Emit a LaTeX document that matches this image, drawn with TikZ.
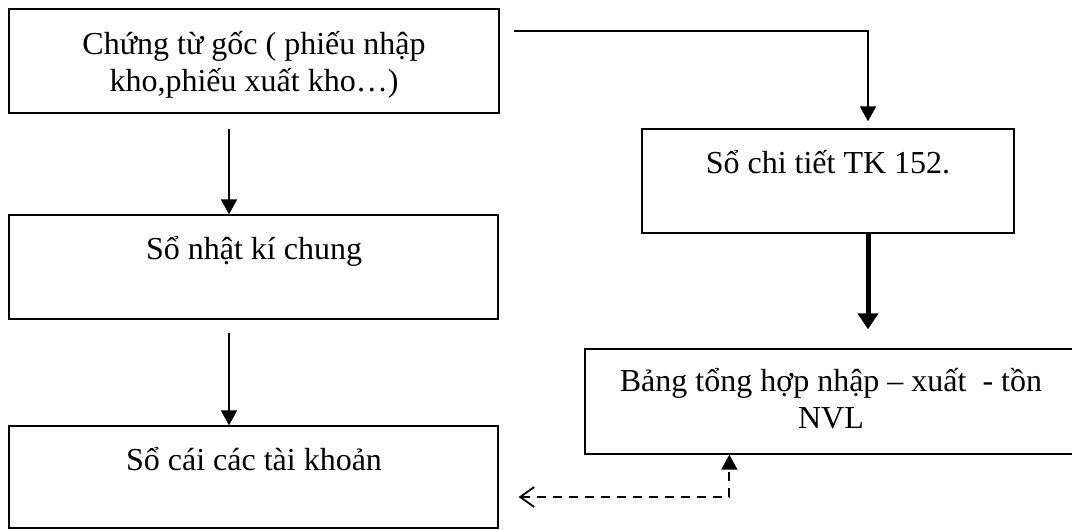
\documentclass[tikz,border=0pt]{standalone}
\usepackage{fontspec}
\setmainfont{Liberation Serif}
\usetikzlibrary{arrows.meta,calc}
\begin{document}
\begin{tikzpicture}[x=1pt,y=-1pt,
  box/.style={draw,line width=1.3pt,inner sep=0pt},
  txt/.style={anchor=base,align=center,inner sep=0pt,font=\fontsize{32}{37}\selectfont},
  arr/.style={line width=1.8pt,-{Triangle[length=15pt,width=16pt]}},
  thickarr/.style={line width=5pt,-{Triangle[length=16pt,width=20pt]}},
  dasharr/.style={line width=1.8pt,dash pattern=on 9pt off 7pt,
    {Straight Barb[length=14pt,width=20pt,line width=1.8pt]}-{Triangle[length=15pt,width=16pt]}}
]
\path[use as bounding box,clip] (0,0) rectangle (1072,530);
% boxes
\node[box,minimum width=490pt,minimum height=104pt] (A) at (254,61) {};
\node[box,minimum width=372pt,minimum height=104pt] (B) at (828,181) {};
\node[box,minimum width=492pt,minimum height=105pt] (C) at (831,401.5) {};
\node[box,minimum width=489pt,minimum height=104pt] (D) at (253.5,267) {};
\node[box,minimum width=489pt,minimum height=102pt] (E) at (253.5,477) {};
% texts
\node[txt] (tA) at (254,91) {Chứng từ gốc ( phiếu nhập\\kho,phiếu xuất kho…)};
\node[txt] (tB) at (828,173) {Sổ chi tiết TK 152.};
\node[txt] (tC) at (831,428) {Bảng tổng hợp nhập – xuất\ \ - tồn\\NVL};
\node[txt] (tD) at (254,259) {Sổ nhật kí chung};
\node[txt] (tE) at (254,470) {Sổ cái các tài khoản};
% connector ends
\coordinate (a0) at ($(A.north east)+(14,23)$);
\coordinate (b0) at ($(B.north)+(40,-7)$);
\coordinate (a1) at ($(A.south)+(-25,15)$);
\coordinate (d1) at (a1 |- D.north);
\coordinate (d2) at ($(D.south)+(-24.5,13)$);
\coordinate (e2) at (d2 |- E.north);
\coordinate (b3) at ($(B.south)+(40,0)$);
\coordinate (c3) at ($(b3 |- C.north)+(0,-19)$);
\coordinate (e4) at ($(E.east)+(20,20)$);
\coordinate (c4) at ($(C.south west)+(145,0)$);
% connectors
\draw[arr] (a0) -| (b0);
\draw[arr] (a1) -- (d1);
\draw[arr] (d2) -- (e2);
\draw[thickarr] (b3) -- (c3);
\draw[dasharr] (e4) -| (c4);
\end{tikzpicture}
\end{document}
